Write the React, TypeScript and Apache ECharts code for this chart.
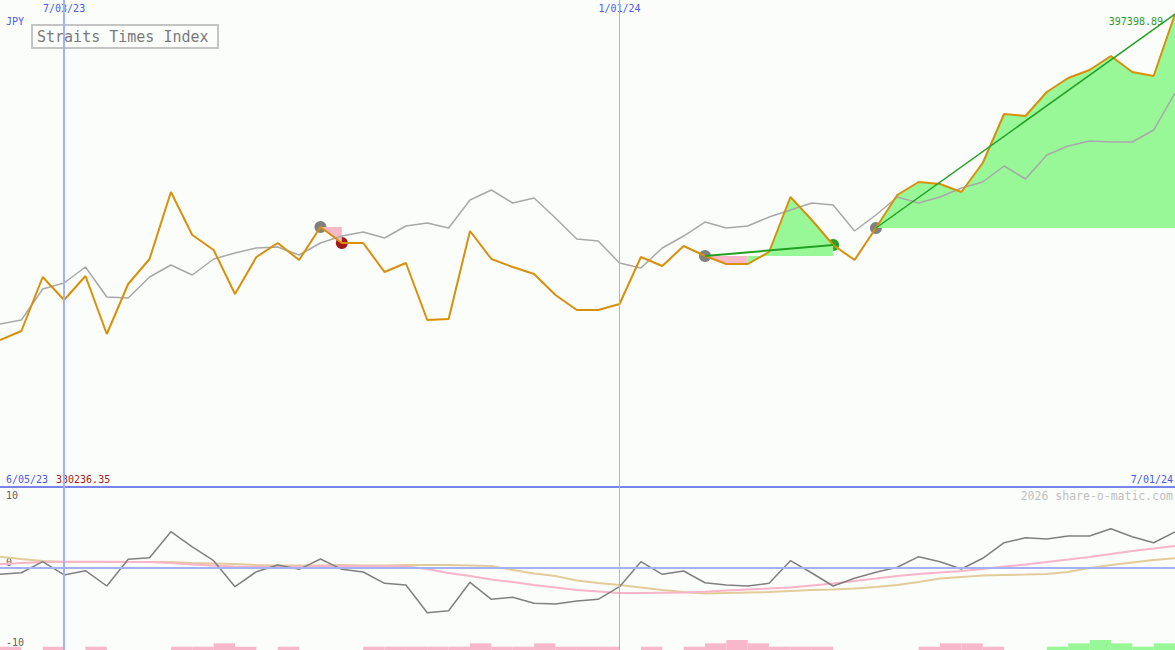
import React, { useEffect, useRef } from 'react';
import * as echarts from 'echarts';

// weekly dates (index 0 .. 55)
const dates = [
  '6/12/23', '6/19/23', '6/26/23', '7/03/23', '7/10/23', '7/17/23', '7/24/23', '7/31/23',
  '8/07/23', '8/14/23', '8/21/23', '8/28/23', '9/04/23', '9/11/23', '9/18/23', '9/25/23',
  '10/02/23', '10/09/23', '10/16/23', '10/23/23', '10/30/23', '11/06/23', '11/13/23', '11/20/23',
  '11/27/23', '12/04/23', '12/11/23', '12/18/23', '12/25/23', '1/01/24', '1/08/24', '1/15/24',
  '1/22/24', '1/29/24', '2/05/24', '2/12/24', '2/19/24', '2/26/24', '3/04/24', '3/11/24',
  '3/18/24', '3/25/24', '4/01/24', '4/08/24', '4/15/24', '4/22/24', '4/29/24', '5/06/24',
  '5/13/24', '5/20/24', '5/27/24', '6/03/24', '6/10/24', '6/17/24', '6/24/24', '7/01/24',
];

// index price (JPY)
const closeValues = [
  351110, 352388, 360056, 356790, 360198, 351962, 359062, 362612, 372126, 366020,
  363890, 357642, 362896, 364884, 362470, 367156, 364884, 364884, 360766, 362044,
  353950, 354092, 366588, 362612, 361476, 360482, 357500, 355370, 355370, 356222,
  362896, 361618, 364458, 363038, 361902, 361902, 363606, 371416, 368150, 364600,
  362470, 367014, 371700, 373546, 373262, 372126, 376244, 383202, 382918, 386326,
  388314, 389450, 391438, 389166, 388598, 397398.89,
];

// moving average
const avgValues = [
  353382, 353950, 358352, 359204, 361476, 357216, 357074, 360056, 361760, 360340,
  362612, 363464, 364174, 364316, 363180, 364884, 365878, 366446, 365594, 367298,
  367724, 367014, 370990, 372410, 370564, 371274, 368434, 365452, 365168, 362044,
  361334, 364174, 365878, 367866, 367014, 367298, 368576, 369570, 370564, 370280,
  366588, 368860, 371416, 370564, 371416, 372694, 373546, 375818, 373972, 377380,
  378658, 379368, 379226, 379226, 380930, 386184,
];

// lower panel oscillator
const oscValues = [
  -0.94, -0.72, 0.8, -1.03, -0.44, -2.55, 1.13, 1.35, 4.94, 2.83,
  0.94, -2.65, -0.58, 0.34, -0.25, 1.17, -0.25, -0.62, -2.18, -2.41,
  -6.23, -5.96, -2.04, -4.39, -4.11, -4.94, -5.03, -4.62, -4.39, -2.65,
  0.8, -0.94, -0.48, -2.1, -2.41, -2.55, -2.18, 0.94, -0.76, -2.55,
  -1.49, -0.66, 0.03, 1.49, 0.8, -0.21, 1.27, 3.42, 4.11, 3.93,
  4.34, 4.34, 5.35, 4.25, 3.42, 4.9,
];

const oscFast = [
  0.44, 0.62, 0.76, 0.8, 0.8, 0.8, 0.76, 0.76, 0.62, 0.41,
  0.28, 0.14, 0.11, 0.11, 0.11, 0.21, 0.21, 0.21, 0.21, 0.14,
  -0.21, -0.76, -1.17, -1.66, -2.0, -2.41, -2.76, -3.1, -3.31, -3.52,
  -3.52, -3.48, -3.45, -3.34, -3.17, -3.03, -2.9, -2.76, -2.48, -2.21,
  -1.86, -1.52, -1.17, -0.9, -0.69, -0.48, -0.21, 0.14, 0.41, 0.76,
  1.1, 1.45, 1.86, 2.28, 2.62, 2.97,
];

const oscSlow = [
  1.49, 1.17, 0.9, 0.76, 0.76, 0.76, 0.76, 0.76, 0.76, 0.62,
  0.55, 0.48, 0.34, 0.28, 0.28, 0.28, 0.34, 0.28, 0.28, 0.34,
  0.34, 0.34, 0.28, 0.21, -0.34, -0.83, -1.17, -1.79, -2.14, -2.41,
  -2.76, -3.1, -3.38, -3.59, -3.52, -3.45, -3.38, -3.24, -3.1, -3.03,
  -2.9, -2.69, -2.41, -2.0, -1.52, -1.31, -1.1, -1.03, -0.97, -0.9,
  -0.62, -0.07, 0.34, 0.69, 1.03, 1.27,
];

// weekly bars between points (negative = pink, positive = green)
const weekBars = [
  -1, 0, -1, 0, -1, 0, 0, 0, -1, -1,
  -2, -1, 0, -1, 0, 0, 0, -1, -1, -1,
  -1, -1, -2, -1, -1, -2, -1, -1, -1, 0,
  -1, 0, -1, -2, -3, -2, -1, -1, -1, 0,
  0, 0, 0, -1, -2, -2, -1, 0, 0, 1,
  2, 3, 2, 1, 2,
];

// signals (indices into dates)
const grayMarks = [15, 33, 41];
const redMarks = [16];
const greenMarks = [39];
const pinkZones = [[15, 16, 15], [33, 35, 33]]; // from, to, base index
const greenZones = [[35, 39, 33], [41, 55, 41]];
const trendLines = [[33, 39], [41, 55]];

const priceMin = 330236.35;
const priceMax = 399390.35;
const startLabel = '6/05/23';
const lastLabel = '7/01/24';

const mono = '"DejaVu Sans Mono", monospace';

const App = () => {
  const chartRef = useRef(null);

  useEffect(() => {
    const chart = echarts.init(chartRef.current, null, { renderer: 'svg' });

    const segment = (from, to) => dates.map((_, i) => (i >= from && i <= to ? closeValues[i] : null));

    const zoneSeries = (zones, color) =>
      zones.map(([from, to, base]) => ({
        type: 'line',
        xAxisIndex: 0,
        yAxisIndex: 0,
        data: segment(from, to),
        symbol: 'none',
        silent: true,
        lineStyle: { width: 0 },
        areaStyle: { color, opacity: 1, origin: closeValues[base] },
      }));

    const markSeries = (idx, color) => ({
      type: 'scatter',
      xAxisIndex: 0,
      yAxisIndex: 0,
      symbolSize: 12,
      itemStyle: { color, opacity: 1 },
      data: idx.map((i) => [i, closeValues[i]]),
    });

    const options = {
      animation: false,
      backgroundColor: '#fbfdfb',
      grid: [
        { left: 0, right: 0, top: 0, height: 487 },
        { left: 0, right: 0, top: 495, height: 145 },
        { left: 0, right: 0, top: 630, height: 20 },
        { left: 0, right: 0, top: 0, bottom: 0 },
      ],
      xAxis: [
        {
          gridIndex: 0,
          type: 'category',
          data: dates,
          boundaryGap: false,
          axisLine: { show: true, onZero: false, lineStyle: { color: '#7884ec', width: 2 } },
          axisTick: { show: false },
          axisLabel: { show: false },
        },
        { gridIndex: 1, type: 'category', data: dates, boundaryGap: false, show: false },
        { gridIndex: 2, type: 'category', data: dates.slice(1), boundaryGap: true, show: false },
        {
          gridIndex: 3,
          type: 'category',
          data: dates,
          boundaryGap: false,
          position: 'top',
          axisLine: { show: false },
          axisTick: { show: false },
          axisLabel: {
            show: true,
            inside: true,
            margin: 3,
            interval: (i) => i === 3 || i === 29,
            color: '#4a5ae8',
            fontSize: 10,
            fontFamily: mono,
          },
        },
      ],
      yAxis: [
        { gridIndex: 0, type: 'value', min: priceMin, max: priceMax, show: false },
        {
          gridIndex: 1,
          type: 'value',
          min: -10,
          max: 10,
          interval: 10,
          axisLine: { show: false },
          axisTick: { show: false },
          splitLine: { show: false },
          axisLabel: {
            inside: true,
            margin: 6,
            color: '#606060',
            fontSize: 10,
            fontFamily: mono,
            formatter: (v) => (v === 0 ? '{z|0}' : v > 0 ? '{t|10}' : '{b|-10}'),
            rich: {
              z: { padding: [0, 0, 10, 0], fontSize: 10, fontFamily: mono, color: '#606060' },
              t: { fontSize: 10, fontFamily: mono, color: '#606060' },
              b: { padding: [4, 0, 0, 0], fontSize: 10, fontFamily: mono, color: '#606060' },
            },
          },
        },
        { gridIndex: 2, type: 'value', min: 0, max: 6, show: false },
        { gridIndex: 3, type: 'value', min: 0, max: 1, show: false },
      ],
      series: [
        {
          type: 'line',
          xAxisIndex: 3,
          yAxisIndex: 3,
          data: [],
          silent: true,
          markLine: {
            symbol: 'none',
            silent: true,
            label: { show: false },
            data: [
              { xAxis: '7/03/23', lineStyle: { color: '#a4b2f4', width: 2, type: 'solid' } },
              { xAxis: '1/01/24', lineStyle: { color: '#a4b2f4', width: 1, type: 'solid' } },
            ],
          },
        },
        ...zoneSeries(pinkZones, '#f8b8c8'),
        ...zoneSeries(greenZones, '#98f898'),
        {
          type: 'line',
          xAxisIndex: 0,
          yAxisIndex: 0,
          data: avgValues,
          symbol: 'none',
          lineStyle: { color: '#a8a8a8', width: 1.5 },
        },
        {
          type: 'line',
          xAxisIndex: 0,
          yAxisIndex: 0,
          data: closeValues,
          symbol: 'none',
          lineStyle: { color: '#d8900a', width: 2 },
        },
        markSeries(grayMarks, '#808080'),
        markSeries(redMarks, '#a01818'),
        markSeries(greenMarks, '#28a028'),
        ...trendLines.map(([a, b], k) => ({
          type: 'line',
          xAxisIndex: 0,
          yAxisIndex: 0,
          data: dates.map((_, i) => (i === a || i === b ? closeValues[i] : null)),
          connectNulls: true,
          symbol: 'none',
          lineStyle: { color: '#22a022', width: k === 0 ? 2 : 1.5 },
        })),
        // lower panel
        {
          type: 'line',
          xAxisIndex: 1,
          yAxisIndex: 1,
          data: oscSlow,
          symbol: 'none',
          lineStyle: { color: '#e2cc9a', width: 2 },
          markLine: {
            symbol: 'none',
            silent: true,
            label: { show: false },
            data: [{ yAxis: 0, lineStyle: { color: '#a4b2f4', width: 2, type: 'solid' } }],
          },
        },
        {
          type: 'line',
          xAxisIndex: 1,
          yAxisIndex: 1,
          data: oscFast,
          symbol: 'none',
          lineStyle: { color: '#f8b4c8', width: 2 },
        },
        {
          type: 'line',
          xAxisIndex: 1,
          yAxisIndex: 1,
          data: oscValues,
          symbol: 'none',
          lineStyle: { color: '#808080', width: 1.5 },
        },
        {
          type: 'bar',
          xAxisIndex: 2,
          yAxisIndex: 2,
          barWidth: '100%',
          data: weekBars.map((v) => ({
            value: Math.abs(v),
            itemStyle: { color: v < 0 ? '#f8b8cc' : '#98f898' },
          })),
        },
      ],
      graphic: [
        {
          type: 'text',
          x: 6,
          y: 21,
          style: { text: 'JPY', fill: '#4a5ae8', font: `10px ${mono}`, verticalAlign: 'middle' },
        },
        {
          type: 'rect',
          shape: { x: 32, y: 25, width: 186, height: 23 },
          style: { fill: '#fbfdfb', stroke: '#c4c4c4', lineWidth: 2 },
        },
        {
          type: 'text',
          x: 37,
          y: 37,
          style: { text: 'Straits Times Index', fill: '#7a7a7a', font: `15px ${mono}`, verticalAlign: 'middle' },
        },
        {
          type: 'text',
          x: 1163,
          y: 21,
          style: {
            text: closeValues[closeValues.length - 1].toFixed(2),
            fill: '#2a9a2a',
            font: `10px ${mono}`,
            align: 'right',
            verticalAlign: 'middle',
          },
        },
        {
          type: 'text',
          x: 6,
          y: 479,
          style: { text: startLabel, fill: '#4a5ae8', font: `10px ${mono}`, verticalAlign: 'middle' },
        },
        {
          type: 'text',
          x: 56,
          y: 479,
          style: { text: priceMin.toFixed(2), fill: '#a01c1c', font: `10px ${mono}`, verticalAlign: 'middle' },
        },
        {
          type: 'text',
          x: 1173,
          y: 479,
          style: { text: lastLabel, fill: '#4a5ae8', font: `10px ${mono}`, align: 'right', verticalAlign: 'middle' },
        },
        {
          type: 'text',
          x: 1173,
          y: 496,
          style: {
            text: '2026 share-o-matic.com',
            fill: '#c0c0c0',
            font: `11.5px ${mono}`,
            align: 'right',
            verticalAlign: 'middle',
          },
        },
      ],
    };

    chart.setOption(options);

    return () => {
      chart.dispose();
    };
  }, []);

  return (
    <div
      ref={chartRef}
      style={{ position: 'fixed', left: 0, top: 0, width: '1175px', height: '650px' }}
    ></div>
  );
};

export default App;
